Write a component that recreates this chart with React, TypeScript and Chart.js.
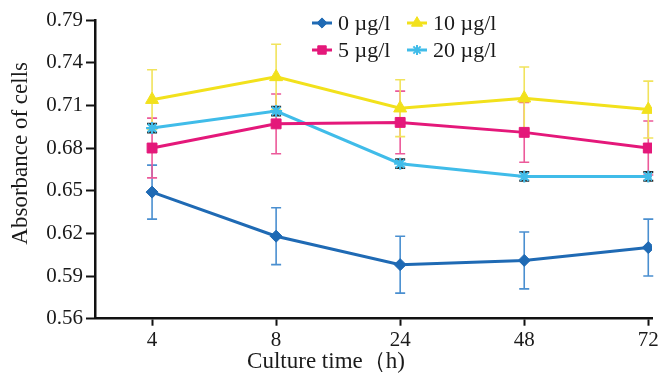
import React, { useEffect, useRef } from 'react';
import { Chart, registerables } from 'chart.js';
import { drawPoint } from 'chart.js/helpers';

Chart.register(...registerables);

// ---- data ----
const xLabels = ['4', '8', '24', '48', '72'];
const yTickLabels = ['0.56', '0.59', '0.62', '0.65', '0.68', '0.71', '0.74', '0.79'];
const yTickStart = 0.56;
const yTickStep = 0.03;

const seriesNames = ['0 µg/l', '5 µg/l', '10 µg/l', '20 µg/l'];

const values0 = [0.649, 0.618, 0.598, 0.601, 0.610];
const err0 = [0.019, 0.020, 0.020, 0.020, 0.020];

const values5 = [0.680, 0.697, 0.698, 0.691, 0.680];
const err5 = [0.021, 0.021, 0.022, 0.021, 0.019];

const values10 = [0.714, 0.730, 0.708, 0.715, 0.707];
const err10 = [0.021, 0.023, 0.020, 0.022, 0.020];

const values20 = [0.694, 0.706, 0.669, 0.660, 0.660];
const err20 = [0.003, 0.003, 0.003, 0.003, 0.003];

const xTitle = 'Culture time（h)';
const yTitle = 'Absorbance of cells';

const FONT = "'Liberation Serif', 'Times New Roman', serif";

const seriesStyles = [
  { color: '#1f6ab4', errColor: '#4a8fd0', pointStyle: 'rectRot', radius: 6 },
  { color: '#e4187a', errColor: '#ec5a9a', pointStyle: 'rect', radius: 7 },
  { color: '#f2e11c', errColor: '#f1e35c', pointStyle: 'triangle', radius: 7.5 },
  { color: '#40bce9', errColor: '#2a2a2a', pointStyle: 'star', radius: 6 },
];

const seriesValues = [values0, values5, values10, values20];
const seriesErrors = [err0, err5, err10, err20];

const errorBarPlugin = {
  id: 'errorBars',
  beforeDatasetsDraw(chart: any) {
    const ctx = chart.ctx;
    const xs = chart.scales.x;
    const ys = chart.scales.y;
    chart.data.datasets.forEach((ds: any, di: number) => {
      const errs = seriesErrors[di];
      const dark = di === 3;
      ctx.save();
      ctx.strokeStyle = ds.errColor;
      ctx.lineWidth = dark ? 2.2 : 1.6;
      ds.data.forEach((p: any, i: number) => {
        const x = xs.getPixelForValue(p.x);
        const yT = ys.getPixelForValue(p.y + errs[i]);
        const yB = ys.getPixelForValue(p.y - errs[i]);
        ctx.beginPath();
        ctx.moveTo(x, yT);
        ctx.lineTo(x, yB);
        ctx.moveTo(x - 5, yT);
        ctx.lineTo(x + 5, yT);
        ctx.moveTo(x - 5, yB);
        ctx.lineTo(x + 5, yB);
        ctx.stroke();
      });
      ctx.restore();
    });
  },
};

const gridLegendPlugin = {
  id: 'gridLegend',
  afterDraw(chart: any) {
    const ctx = chart.ctx;
    chart.data.datasets.forEach((ds: any, i: number) => {
      const col = Math.floor(i / 2);
      const row = i % 2;
      const x0 = 312 + col * 95;
      const y = 23 + row * 27;
      ctx.save();
      ctx.strokeStyle = ds.borderColor;
      ctx.fillStyle = ds.borderColor;
      ctx.lineWidth = 3;
      ctx.beginPath();
      ctx.moveTo(x0, y);
      ctx.lineTo(x0 + 20, y);
      ctx.stroke();
      ctx.lineWidth = ds.pointStyle === 'star' ? 2 : 1;
      drawPoint(ctx, { pointStyle: ds.pointStyle, radius: ds.pointRadius * 0.85, borderWidth: ctx.lineWidth, rotation: 0 }, x0 + 10, y);
      ctx.fillStyle = '#1a1a1a';
      ctx.font = `22px ${FONT}`;
      ctx.textAlign = 'left';
      ctx.textBaseline = 'middle';
      ctx.fillText(ds.label, x0 + 26, y + 1);
      ctx.restore();
    });
  },
};

const yTitlePlugin = {
  id: 'yTitleText',
  afterDraw(chart: any) {
    const ctx = chart.ctx;
    const area = chart.chartArea;
    ctx.save();
    ctx.translate(21, (area.top + area.bottom) / 2 - 16);
    ctx.rotate(-Math.PI / 2);
    ctx.fillStyle = '#1a1a1a';
    ctx.font = `23px ${FONT}`;
    ctx.textAlign = 'center';
    ctx.textBaseline = 'middle';
    ctx.fillText(yTitle, 0, 0);
    ctx.restore();
  },
};

export default function App() {
  const canvasRef = useRef<HTMLCanvasElement | null>(null);

  useEffect(() => {
    if (!canvasRef.current) return;
    Chart.defaults.font.family = FONT;
    Chart.defaults.color = '#1a1a1a';

    const datasets = seriesNames.map((name, di) => {
      const st = seriesStyles[di];
      return {
        label: name,
        data: seriesValues[di].map((v, i) => ({ x: i, y: v })),
        borderColor: st.color,
        backgroundColor: st.color,
        errColor: st.errColor,
        borderWidth: 3,
        pointStyle: st.pointStyle,
        pointRadius: st.radius,
        pointBorderWidth: st.pointStyle === 'star' ? 2.2 : 1,
        pointBackgroundColor: st.color,
        pointBorderColor: st.color,
        tension: 0,
      } as any;
    });

    const chart = new Chart(canvasRef.current, {
      type: 'line',
      data: { datasets },
      plugins: [errorBarPlugin, gridLegendPlugin, yTitlePlugin],
      options: {
        animation: false,
        responsive: false,
        layout: { padding: { top: 20, right: 11, left: 0, bottom: 0 } },
        plugins: {
          legend: { display: false },
          tooltip: { enabled: false },
          title: {
            display: true,
            position: 'bottom',
            text: xTitle,
            font: { size: 23, weight: 'normal', family: FONT, lineHeight: 1.1 },
            color: '#1a1a1a',
            padding: { top: 0, bottom: 0 },
          },
        },
        scales: {
          x: {
            type: 'linear',
            min: -0.46,
            max: 4.03,
            afterBuildTicks: (axis: any) => {
              axis.ticks = xLabels.map((_, i) => ({ value: i }));
            },
            afterFit: (scale: any) => {
              scale.height = 31;
            },
            ticks: {
              callback: (v: any) => xLabels[Math.round(v)] ?? '',
              font: { size: 21, family: FONT },
              color: '#1a1a1a',
              padding: 2,
              maxRotation: 0,
            },
            grid: {
              drawOnChartArea: false,
              drawTicks: true,
              tickLength: 7,
              tickWidth: 2,
              tickColor: '#111',
            },
            border: { display: true, color: '#111', width: 2.5 },
          },
          y: {
            type: 'linear',
            min: yTickStart,
            max: yTickStart + yTickStep * (yTickLabels.length - 1),
            afterBuildTicks: (axis: any) => {
              axis.ticks = yTickLabels.map((_, i) => ({ value: yTickStart + i * yTickStep }));
            },
            afterFit: (scale: any) => {
              scale.width = 95;
            },
            ticks: {
              callback: (_v: any, idx: number) => yTickLabels[idx] ?? '',
              font: { size: 21, family: FONT },
              color: '#1a1a1a',
              padding: 3,
            },
            grid: {
              drawOnChartArea: false,
              drawTicks: true,
              tickLength: 9,
              tickWidth: 2,
              tickColor: '#111',
            },
            border: { display: true, color: '#111', width: 2.5 },
          },
        },
      } as any,
    });
    return () => chart.destroy();
  }, []);

  return (
    <div style={{ position: 'absolute', left: 0, top: 0, width: 663, height: 375, background: '#fff' }}>
      <canvas ref={canvasRef} width={663} height={375} style={{ display: 'block' }} />
    </div>
  );
}
